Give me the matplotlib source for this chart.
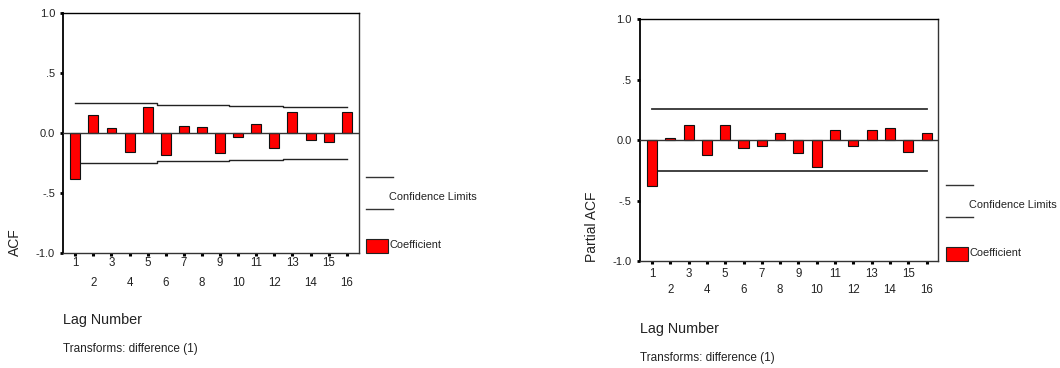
import matplotlib
matplotlib.use("Agg")
import matplotlib.pyplot as plt
from matplotlib.lines import Line2D
from matplotlib.patches import Rectangle
from matplotlib.ticker import FixedLocator, FixedFormatter

plt.rcParams['font.family'] = ['Liberation Sans', 'DejaVu Sans']

lags = list(range(1, 17))
acf_values = [-0.382, 0.151, 0.045, -0.162, 0.220, -0.187, 0.061, 0.053,
              -0.170, -0.036, 0.078, -0.126, 0.179, -0.056, -0.075, 0.179]
acf_limits = [0.247, 0.247, 0.247, 0.247, 0.247, 0.238, 0.238, 0.238,
              0.238, 0.229, 0.229, 0.229, 0.221, 0.221, 0.221, 0.221]
pacf_values = [-0.378, 0.019, 0.122, -0.124, 0.122, -0.064, -0.047, 0.061,
               -0.108, -0.221, 0.088, -0.047, 0.088, 0.097, -0.099, 0.061]
pacf_limits = [0.257] * 16
y_ticks = [-1.0, -0.5, 0.0, 0.5, 1.0]
y_ticklabels = ['-1.0', '-.5', '0.0', '.5', '1.0']
odd_lags = [l for l in lags if l % 2 == 1]
even_lags = [l for l in lags if l % 2 == 0]

W, H = 1060, 368
fig = plt.figure(figsize=(W / 100, H / 100), dpi=100)


def px(x0, y0, x1, y1):
    return [x0 / W, 1 - y1 / H, (x1 - x0) / W, (y1 - y0) / H]


def panel(rect, values, limits, ylabel, ylab_xy, odd_pad, even_pad, conf_color, conf_lw,
          leg_x, leg_y1, leg_y2, leg_text_y, patch_y0, patch_y1, coef_y,
          lag_xy, trans_xy):
    ax = fig.add_axes(rect)
    ax.bar(lags, values, width=0.55, color='#ff0000', edgecolor='#111111',
           linewidth=0.8, zorder=3)
    lo = [-v for v in limits]
    ax.plot(lags, limits, drawstyle='steps-mid', color=conf_color, lw=conf_lw, zorder=2)
    ax.plot(lags, lo, drawstyle='steps-mid', color=conf_color, lw=conf_lw, zorder=2)
    ax.axhline(0, color='#333333', lw=1.0, zorder=4)
    ax.set_xlim(0.32, 16.65)
    ax.set_ylim(-1.0, 1.0)
    ax.set_yticks(y_ticks)
    ax.set_yticklabels(y_ticklabels, fontsize=8, color='#222222')
    ax.tick_params(axis='y', direction='out', length=2.2, width=2, color='black', pad=3.5)
    ax.xaxis.set_major_locator(FixedLocator(odd_lags))
    ax.xaxis.set_major_formatter(FixedFormatter([str(l) for l in odd_lags]))
    ax.xaxis.set_minor_locator(FixedLocator(even_lags))
    ax.xaxis.set_minor_formatter(FixedFormatter([str(l) for l in even_lags]))
    ax.tick_params(axis='x', which='major', direction='out', length=1.8, width=2.2,
                   color='black', pad=odd_pad, labelsize=8.3, labelcolor='#222222')
    ax.tick_params(axis='x', which='minor', direction='out', length=1.8, width=2.2,
                   color='black', pad=even_pad, labelsize=8.3, labelcolor='#222222')
    for s in ax.spines.values():
        s.set_color('#333333')
        s.set_linewidth(1.0)
    ax.spines['left'].set_color('black')
    ax.spines['left'].set_linewidth(1.3)
    ax.spines['top'].set_color('black')

    fig.text(ylab_xy[0] / W, 1 - ylab_xy[1] / H, ylabel, rotation=90, ha='center',
             va='center', fontsize=10, color='#222222')
    # legend
    for yy in (leg_y1, leg_y2):
        fig.add_artist(Line2D([leg_x / W, (leg_x + 27) / W], [1 - yy / H, 1 - yy / H],
                              color='#333333', lw=1.0, transform=fig.transFigure))
    fig.text((leg_x + 23) / W, 1 - leg_text_y / H, 'Confidence Limits', fontsize=7.9,
             ha='left', va='center', color='#222222')
    fig.add_artist(Rectangle((leg_x / W, 1 - patch_y1 / H), 22 / W, (patch_y1 - patch_y0) / H,
                             facecolor='#ff0000', edgecolor='#222222', lw=0.8,
                             transform=fig.transFigure))
    fig.text((leg_x + 23) / W, 1 - coef_y / H, 'Coefficient', fontsize=7.9,
             ha='left', va='center', color='#222222')
    fig.text(lag_xy[0] / W, 1 - lag_xy[1] / H, 'Lag Number', fontsize=10.4,
             ha='left', va='center', color='#222222')
    fig.text(trans_xy[0] / W, 1 - trans_xy[1] / H, 'Transforms: difference (1)',
             fontsize=8.5, ha='left', va='center', color='#222222')
    return ax


panel(px(63, 13.3, 358.5, 252.7), acf_values, acf_limits, 'ACF', (15, 242),
      1.6, 15.5, '#222222', 1.0,
      366, 177.3, 209.3, 196.7, 239.3, 252.7, 245.3,
      (62.7, 320.3), (63.3, 349))
panel(px(639.5, 19.3, 938.5, 261), pacf_values, pacf_limits, 'Partial ACF', (592.5, 227),
      3.2, 15.0, '#333333', 1.3,
      946, 185.3, 217.3, 204.7, 247.3, 260.7, 253.3,
      (640, 329.3), (640, 357.7))

fig.savefig('out.png', dpi=100, facecolor='white')
